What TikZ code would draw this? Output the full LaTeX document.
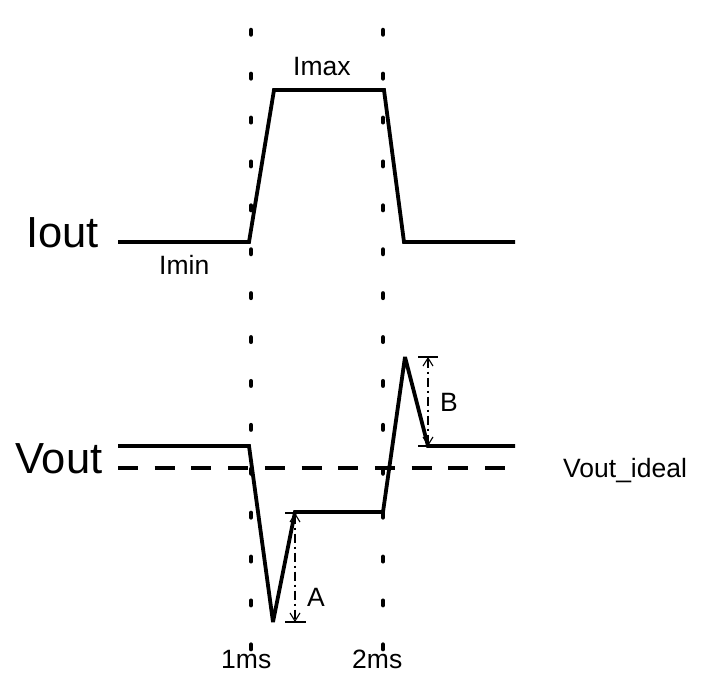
\documentclass[tikz,border=0pt]{standalone}
\usepackage{fontspec}
\setmainfont{Liberation Sans}
\usetikzlibrary{arrows.meta}
\begin{document}
\begin{tikzpicture}[x=1pt,y=-1pt,
  wave/.style={line width=3.8pt,line join=miter,miter limit=2.5,line cap=butt},
  idealline/.style={line width=3.6pt,dash pattern=on 20pt off 16.7pt},
  grid/.style={line width=4.5pt,line cap=round,dash pattern=on 4.5pt off 39.4pt},
  dimline/.style={line width=1.1pt,dash pattern=on 9pt off 4pt on 2pt off 4pt,{Straight Barb[length=8pt,width=10pt]}-{Straight Barb[length=8pt,width=10pt]}},
  tick/.style={line width=1.1pt},
  big/.style={inner sep=0pt,anchor=base west,font=\fontsize{43.5}{50}\selectfont},
  small/.style={inner sep=0pt,anchor=base west,font=\fontsize{26.5}{31}\selectfont}]
\useasboundingbox (0,0) rectangle (703,690);
% dotted time markers
\coordinate (t1top) at (251,30);
\coordinate (t1bot) at (251,650);
\coordinate (t2top) at (383,30);
\coordinate (t2bot) at (383,650);
\draw[grid] (t1top) -- (t1bot);
\draw[grid] (t2top) -- (t2bot);
% Iout waveform
\coordinate (i0) at (118,242);
\coordinate (i1) at (249,242);
\coordinate (i2) at (274,90);
\coordinate (i3) at (384,90);
\coordinate (i4) at (404,242);
\coordinate (i5) at (515,242);
\draw[wave] (i0) -- (i1) -- (i2) -- (i3) -- (i4) -- (i5);
% Vout ideal
\coordinate (d0) at (118,468);
\coordinate (d1) at (515,468);
\draw[idealline] (d0) -- (d1);
% Vout waveform
\coordinate (v0) at (118,446);
\coordinate (v1) at (249,446);
\coordinate (v2) at (273,622);
\coordinate (v3) at (295,512);
\coordinate (v4) at (383,512);
\coordinate (v5) at (405,357);
\coordinate (v6) at (428,446);
\coordinate (v7) at (515,446);
\draw[wave] (v0) -- (v1) -- (v2) -- (v3) -- (v4) -- (v5) -- (v6) -- (v7);
% dimension A
\coordinate (aT) at (295,513);
\coordinate (aB) at (295,622);
\coordinate (aTl) at (285,513);
\coordinate (aBl) at (285,622);
\coordinate (aBr) at (306,622);
\draw[tick] (aTl) -- (aT);
\draw[tick] (aBl) -- (aBr);
\draw[dimline] (aT) -- (aB);
% dimension B
\coordinate (bT) at (428,357);
\coordinate (bB) at (428,446);
\coordinate (bTl) at (418,357);
\coordinate (bTr) at (438,357);
\coordinate (bBl) at (418,446);
\draw[tick] (bTl) -- (bTr);
\draw[tick] (bBl) -- (bB);
\draw[dimline] (bT) -- (bB);
% labels
\node[big] (lIout) at (26,247) {Iout};
\node[big] (lVout) at (15,473) {Vout};
\node[small] (lImin) at (159,274) {Imin};
\node[small] (lImax) at (293,76) {Imax};
\node[small] (lideal) at (563,477) {Vout\_ideal};
\node[small] (l1ms) at (221,668) {1ms};
\node[small] (l2ms) at (352,668) {2ms};
\node[small] (lA) at (307,606) {A};
\node[small] (lB) at (440,411) {B};
\end{tikzpicture}
\end{document}
